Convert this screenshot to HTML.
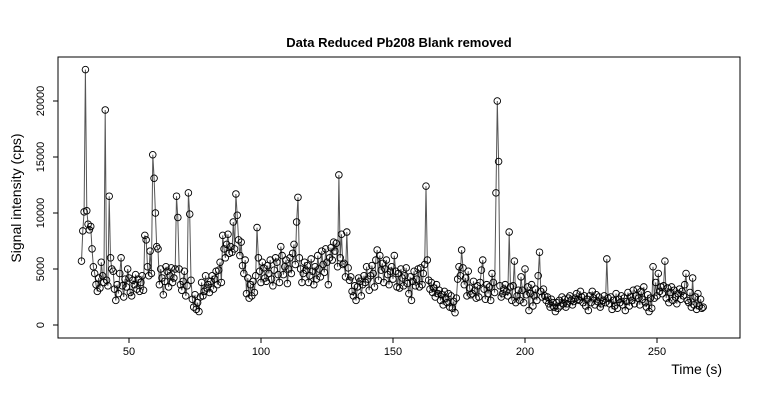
<!DOCTYPE html>
<html><head><meta charset="utf-8"><style>
body{margin:0;background:#fff}
svg{display:block;font-family:"Liberation Sans",Arial,sans-serif}
</style></head><body>
<svg id="c" width="760" height="400">
<rect x="0" y="0" width="760" height="400" fill="#fff"/>
<text x="399" y="47" text-anchor="middle" font-size="13" font-weight="bold">Data Reduced Pb208 Blank removed</text>
<rect x="58" y="57" width="682" height="281" fill="none" stroke="#000" stroke-width="1"/>
<text transform="translate(21,198) rotate(-90)" text-anchor="middle" font-size="14">Signal intensity (cps)</text>
<text x="722" y="374" text-anchor="end" font-size="14">Time (s)</text>
<g id="axes"></g>
<g id="lines"></g>
<g id="pts"></g>
</svg>
<script>
const tStart = 32;
const tStep = 0.5;
const xTicks = [50, 100, 150, 200, 250];
const yTicks = [0, 5000, 10000, 15000, 20000];
const signalK = [
5.7,8.4,10.1,22.8,10.2,9.0,8.5,8.8,6.8,5.2,4.6,3.6,3.0,4.2,3.3,5.6,4.4,3.8,19.2,4.0,
3.5,11.5,6.0,5.0,4.8,3.2,2.2,3.6,2.8,4.6,6.0,3.5,2.5,4.1,3.4,5.0,4.2,2.9,2.6,4.0,
3.6,4.5,3.2,4.1,3.0,3.8,4.4,3.1,8.0,7.6,5.2,4.4,6.6,4.6,15.2,13.1,10.0,7.0,6.8,3.6,
5.0,4.2,2.7,3.9,5.2,4.8,3.4,4.4,5.1,3.8,4.2,5.0,11.5,9.6,5.0,3.6,3.1,3.9,4.8,2.6,
3.5,11.8,9.9,4.0,2.3,1.6,2.7,1.4,2.0,1.2,2.5,3.8,2.6,3.0,4.4,3.3,3.6,2.9,3.9,4.4,
3.2,4.1,4.8,3.6,4.9,5.6,3.8,8.0,6.8,6.0,7.2,8.1,6.4,7.0,6.5,9.2,6.8,11.7,9.8,7.6,
6.2,7.4,5.3,4.6,5.8,2.8,4.2,2.4,3.6,2.6,3.9,2.9,4.4,8.7,6.0,4.8,3.8,5.6,5.1,4.2,
3.9,5.3,4.6,5.8,4.1,3.5,4.9,6.0,5.6,4.5,3.8,7.0,6.2,4.5,5.2,5.8,3.7,5.0,6.0,4.6,
6.4,7.2,5.4,9.2,11.4,6.0,5.0,3.8,4.6,5.6,4.9,5.3,3.8,4.4,5.9,4.8,3.6,5.2,4.1,6.2,
5.0,4.3,6.6,5.4,4.7,6.8,5.6,3.6,6.0,6.9,5.8,7.4,6.6,7.3,5.2,13.4,6.0,8.1,5.4,5.5,
4.3,8.3,5.1,4.0,4.3,3.0,2.6,3.5,2.2,3.4,4.2,3.9,2.6,3.6,4.4,3.8,5.2,4.1,3.1,4.4,
5.3,4.6,3.4,5.8,6.7,4.0,6.2,4.9,5.5,3.8,5.0,5.8,4.5,3.6,4.8,5.2,4.1,6.2,4.8,3.4,
4.6,3.3,5.0,4.2,3.5,4.4,5.1,3.7,2.8,4.3,2.2,3.9,4.8,3.5,4.1,5.0,3.4,5.1,3.6,4.6,
5.4,12.4,5.8,4.0,3.2,3.8,2.9,3.3,2.5,3.6,2.8,3.1,2.2,2.7,1.8,3.0,2.4,2.0,2.8,1.6,
2.6,1.5,2.1,1.1,2.4,4.1,5.2,4.4,6.7,5.1,3.6,4.2,2.6,4.8,3.3,2.7,2.8,3.9,3.1,2.4,
3.5,2.5,3.8,4.9,5.8,3.2,2.3,3.6,2.8,3.4,2.2,4.6,3.8,2.9,11.8,20.0,14.6,3.5,2.5,2.8,
3.2,3.6,3.0,2.6,8.3,3.4,2.2,3.5,5.7,2.0,2.6,3.1,2.2,4.3,3.1,2.0,5.0,2.7,3.4,1.3,
2.8,3.6,1.7,2.6,3.2,2.2,4.4,6.5,3.0,2.5,3.2,2.6,2.2,2.5,1.9,1.6,2.3,2.0,1.6,1.2,
2.0,1.5,2.2,1.7,2.5,1.9,2.3,1.6,1.9,2.4,2.6,2.2,1.8,2.1,2.4,2.8,2.3,2.2,3.0,2.5,
2.0,2.6,1.7,2.3,1.3,2.6,2.0,3.0,2.4,1.8,2.7,2.1,2.5,1.6,1.9,2.2,2.6,2.0,5.9,2.4,
1.9,2.5,1.4,2.2,1.7,2.8,1.5,2.3,2.0,2.6,1.8,2.4,1.3,2.1,2.9,1.7,2.5,2.2,3.1,1.9,
2.6,3.2,2.4,1.8,3.0,2.3,3.4,2.0,1.6,2.7,1.2,2.4,1.5,5.2,2.4,3.8,2.6,4.6,3.0,3.4,
2.8,3.5,5.7,2.4,3.3,2.0,2.9,3.4,2.2,3.1,2.5,1.9,2.8,3.2,2.3,3.0,2.6,3.6,4.6,2.2,
2.0,2.9,1.6,4.2,1.8,2.5,1.4,2.8,1.7,2.3,1.5,1.6
];
const NS = "http://www.w3.org/2000/svg";
function xs(t){ return 129 + (t - 50) * 2.64; }
function ys(v){ return 325 - v * 0.0112; }
function mk(tag, attrs, parent){ const e = document.createElementNS(NS, tag); for (const k in attrs) e.setAttribute(k, attrs[k]); parent.appendChild(e); return e; }
const axes = document.getElementById('axes');
const xl = mk('line', {x1: xs(xTicks[0]), x2: xs(xTicks[xTicks.length-1]), y1: 338, y2: 338, stroke: '#000'}, axes);


xTicks.forEach(t => {
  const tk = mk('line', {x1: xs(t), x2: xs(t), y1: 338, y2: 343, stroke: '#000'}, axes);
  
  
  const lb = mk('text', {x: xs(t), y: 355, 'text-anchor': 'middle', 'font-size': 11}, axes);
  lb.textContent = t;
  
  
});
const yl = mk('line', {x1: 58, x2: 58, y1: ys(yTicks[0]), y2: ys(yTicks[yTicks.length-1]), stroke: '#000'}, axes);


yTicks.forEach(v => {
  const tk = mk('line', {x1: 53, x2: 58, y1: ys(v), y2: ys(v), stroke: '#000'}, axes);
  
  
  const lb = mk('text', {transform: 'translate(44,' + ys(v) + ') rotate(-90)', 'text-anchor': 'middle', 'font-size': 11}, axes);
  lb.textContent = v;
  
  
});
const pts = signalK.map((v, i) => [xs(tStart + i * tStep), ys(v * 1000)]);
const path = mk('path', {d: 'M' + pts.map(p => p[0].toFixed(1) + ',' + p[1].toFixed(1)).join('L'), fill: 'none', stroke: '#555', 'stroke-width': 1}, document.getElementById('lines'));


const pg = document.getElementById('pts');
pts.forEach(p => {
  const c = mk('circle', {cx: p[0], cy: p[1], r: 3.3, fill: 'none', stroke: '#000', 'stroke-width': 0.9}, pg);
  
  
});
</script>
</body></html>
